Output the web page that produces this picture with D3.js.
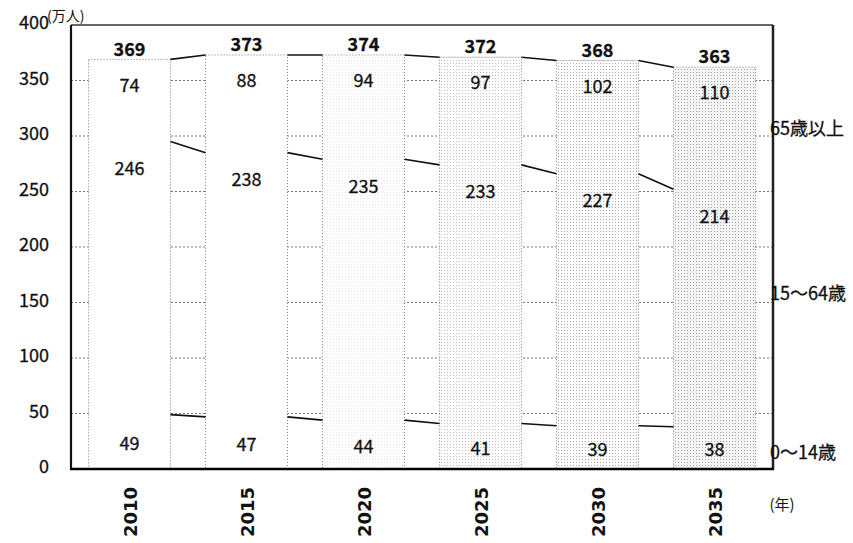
<!DOCTYPE html>
<html>
<head>
<meta charset="utf-8">
<script src="https://d3js.org/d3.v7.min.js"></script>
<style>
  body { margin: 0; background: #fff; }
  text { font-family: "Noto Sans CJK JP", "Open Sans", sans-serif; fill: #111; }
</style>
</head>
<body>
<svg id="chart" width="853" height="543"></svg>
<script>
// data (万人)
var years = ["2010", "2015", "2020", "2025", "2030", "2035"];
var age0_14 = [49, 47, 44, 41, 39, 38];
var age15_64 = [246, 238, 235, 233, 227, 214];
var age65 = [74, 88, 94, 97, 102, 110];
var totals = [369, 373, 374, 372, 368, 363];
var groupNames = ["0〜14歳", "15〜64歳", "65歳以上"];
var yTicks = [0, 50, 100, 150, 200, 250, 300, 350, 400];

// where the group names sit on the right (in axis units)
var groupNameAt = [15, 158, 307];
// halftone darkness of each bar (scan gets greyer to the right)
var dotColor = [null, null, "#e8e8e8", "#bdbdbd", "#a8a8a8", "#949494"];

var plotL = 71, plotR = 773, plotT = 25, plotB = 469;
var svg = d3.select("#chart");

var x = d3.scaleBand().domain(years).range([plotL, plotR])
    .paddingInner(0.3).paddingOuter(0.15);
var y = d3.scaleLinear().domain([0, 400]).range([plotB, plotT]);
var bw = x.bandwidth();

var rows = years.map(function(yr, i) {
    return { year: yr, a: age0_14[i], b: age15_64[i], c: age65[i], total: totals[i] };
});
var series = d3.stack().keys(["a", "b", "c"])(rows);

// halftone patterns
var defs = svg.append("defs");
years.forEach(function(yr, i) {
    var p = defs.append("pattern").attr("id", "tone" + i)
        .attr("width", 3).attr("height", 3).attr("patternUnits", "userSpaceOnUse");
    p.append("rect").attr("width", 3).attr("height", 3).attr("fill", "#fff");
    if (dotColor[i]) {
        p.append("rect").attr("width", 1).attr("height", 1).attr("fill", dotColor[i]);
        if (i == 5) p.append("rect").attr("x", 1.5).attr("y", 1.5).attr("width", 1).attr("height", 1).attr("fill", "#c4c4c4");
    }
});

// grid
svg.append("g").selectAll("line")
    .data(yTicks.filter(function(d) { return d > 0 && d < 400; }))
    .enter().append("line")
    .attr("x1", plotL).attr("x2", plotR)
    .attr("y1", d => y(d)).attr("y2", d => y(d))
    .attr("stroke", "#777").attr("stroke-width", 1)
    .attr("stroke-dasharray", "2,2");

// bars
svg.append("g").selectAll("rect")
    .data(rows).enter().append("rect")
    .attr("x", d => x(d.year))
    .attr("width", bw)
    .attr("y", (d, i) => y(series[2][i][1]))
    .attr("height", (d, i) => y(0) - y(series[2][i][1]))
    .attr("fill", (d, i) => "url(#tone" + i + ")")
    .attr("stroke", "#777").attr("stroke-width", 1)
    .attr("stroke-dasharray", "1,2");

// connecting lines between bars
var conn = svg.append("g");
series.forEach(function(s) {
    for (var i = 0; i < years.length - 1; i++) {
        conn.append("line")
            .attr("x1", x(years[i]) + bw).attr("y1", y(s[i][1]))
            .attr("x2", x(years[i + 1])).attr("y2", y(s[i + 1][1]))
            .attr("stroke", "#111").attr("stroke-width", 1.6);
    }
});

// frame
svg.append("line").attr("x1", plotL).attr("x2", plotR).attr("y1", plotT).attr("y2", plotT)
    .attr("stroke", "#333").attr("stroke-width", 1.5);
svg.append("line").attr("x1", plotR).attr("x2", plotR).attr("y1", plotT).attr("y2", plotB)
    .attr("stroke", "#222").attr("stroke-width", 2.5);
svg.append("line").attr("x1", plotL).attr("x2", plotL).attr("y1", plotT).attr("y2", plotB)
    .attr("stroke", "#111").attr("stroke-width", 2.2);
svg.append("line").attr("x1", plotL - 1).attr("x2", plotR + 1).attr("y1", plotB).attr("y2", plotB)
    .attr("stroke", "#000").attr("stroke-width", 2.6);

// y axis labels
var yAxis = svg.append("g").attr("transform", "translate(" + plotL + ",0)")
    .call(d3.axisLeft(y).tickValues(yTicks).tickSize(0).tickPadding(22));
yAxis.select(".domain").remove();
yAxis.selectAll("text").style("font-size", "18px")
    .style("font-family", "'Noto Sans CJK JP', sans-serif")
    .attr("fill", "#111").attr("stroke", "#111").attr("stroke-width", 0.3)
    .attr("dy", "0.2em");

svg.append("text").attr("x", 47).attr("y", 21)
    .style("font-size", "14px").text("(万人)");

// value labels
var lab = svg.append("g").attr("text-anchor", "middle").style("font-size", "18px")
    .attr("stroke", "#111").attr("stroke-width", 0.3);
rows.forEach(function(d, i) {
    var cx = x(d.year) + bw / 2;
    lab.append("text").attr("x", cx).attr("y", y(series[2][i][1]) - 10)
        .attr("dy", "0.35em").style("font-weight", "bold").text(d.total);
    lab.append("text").attr("x", cx).attr("y", y(series[2][i][1]) + 26)
        .attr("dy", "0.35em").text(d.c);
    lab.append("text").attr("x", cx).attr("y", y(series[1][i][1]) + 27)
        .attr("dy", "0.35em").text(d.b);
    lab.append("text").attr("x", cx).attr("y", y(series[0][i][1] / 2) + 2)
        .attr("dy", "0.35em").text(d.a);
});

// group names on the right
svg.append("g").selectAll("text")
    .data(groupNames).enter().append("text")
    .attr("x", plotR - 3).attr("y", (d, i) => y(groupNameAt[i]))
    .attr("dy", "0.35em").style("font-size", "18px")
    .attr("stroke", "#111").attr("stroke-width", 0.3).text(d => d);

// year labels (rotated)
svg.append("g").selectAll("text")
    .data(years).enter().append("text")
    .attr("transform", d => "translate(" + (x(d) + bw / 2 + 7) + ",487) rotate(-90)")
    .attr("text-anchor", "end")
    .style("font-family", "'DejaVu Sans', sans-serif")
    .style("font-weight", "bold").style("font-size", "18px")
    .text(d => d);

svg.append("text").attr("x", 782).attr("y", 505).attr("text-anchor", "middle")
    .attr("dy", "0.35em").style("font-size", "15px").text("(年)");
</script>
</body>
</html>
